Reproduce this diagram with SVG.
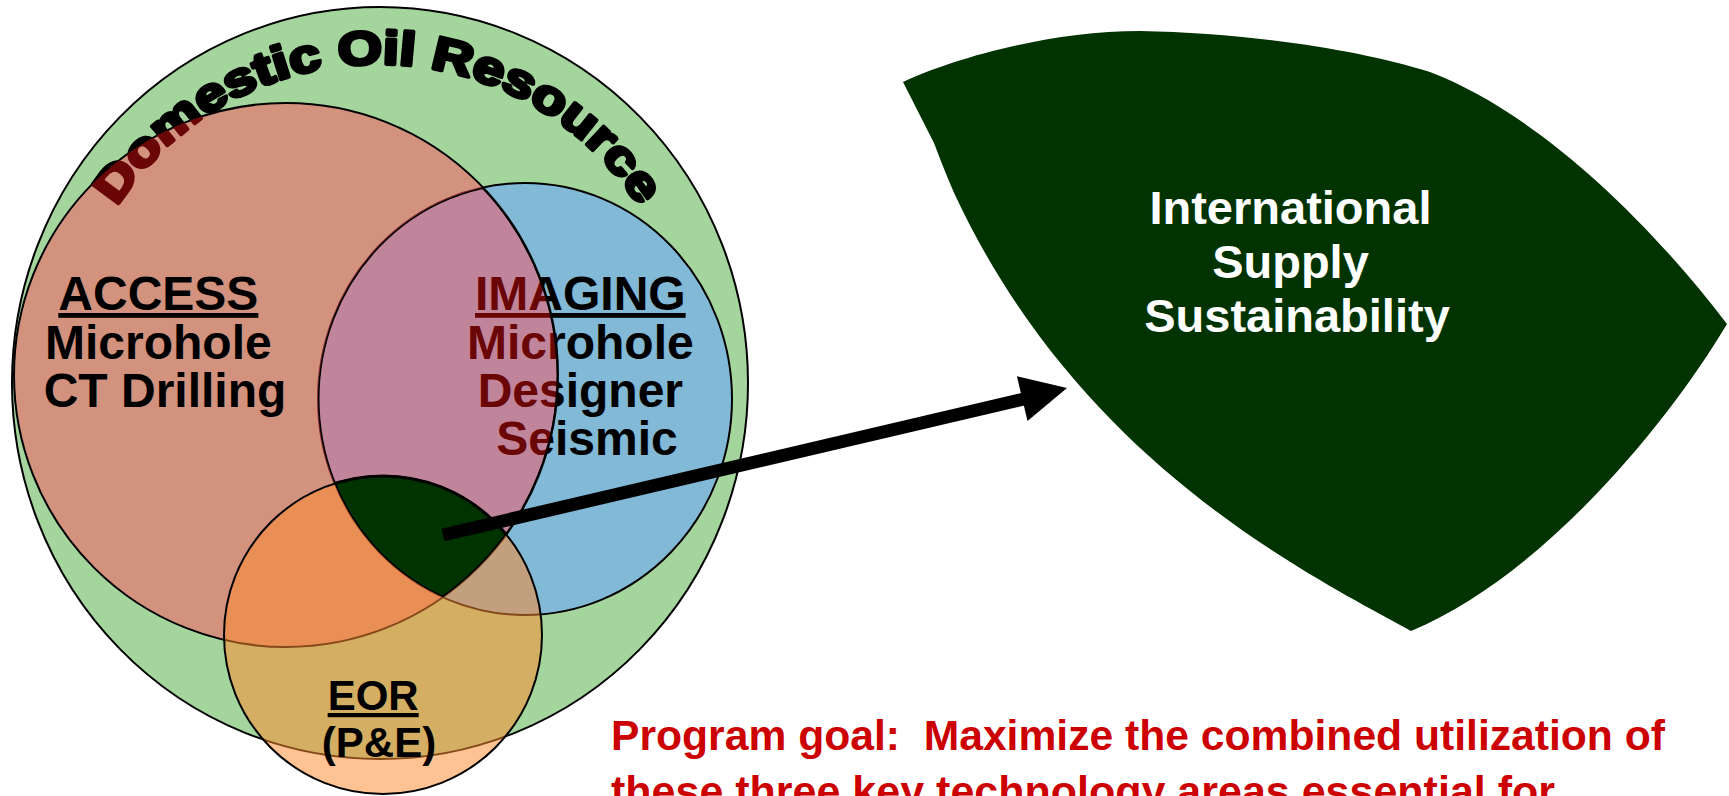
<svg xmlns="http://www.w3.org/2000/svg" width="1729" height="796" viewBox="0 0 1729 796">
<style>
  .lbl{font-family:"Liberation Sans",Arial,sans-serif;font-weight:bold;text-anchor:middle}
  .edge{stroke:#000;stroke-width:2}
  .outline{fill:none;stroke:#000;stroke-width:3}
  .goal{font-family:"Liberation Sans",Arial,sans-serif;font-weight:bold;font-size:43px;fill:#cc0000;white-space:pre}
</style>
<defs>
  <clipPath id="clipRed"><circle cx="286" cy="375" r="272"/></clipPath>
  <clipPath id="clipBlue"><ellipse cx="525" cy="399" rx="207" ry="216"/></clipPath>
  <pattern id="tint" patternUnits="userSpaceOnUse" x="0" y="0" width="1729" height="796">
    <rect width="1729" height="796" fill="#000"/>
    <circle cx="286" cy="375" r="272" fill="#6a0606"/>
  </pattern>
  <path id="arc" d="M 68 374 A 310 310 0 0 1 688 374"/>
</defs>
<rect width="1729" height="796" fill="#ffffff"/>

<g id="domestic-oil-resource">
  <ellipse cx="380" cy="383" rx="368" ry="376" fill="#a4d59c" class="edge"/>
</g>

<g id="imaging">
  <ellipse cx="525" cy="399" rx="207" ry="216" fill="#6ba6fe" fill-opacity="0.6" class="edge"/>
</g>

<g id="access">
  <circle cx="286" cy="375" r="272" fill="#ff4f60" fill-opacity="0.5" class="edge"/>
  <text class="lbl" font-size="48" fill="#000">
    <tspan x="165" y="310" text-decoration="underline">ACCESS</tspan>
    <tspan x="165" y="359">Microhole</tspan>
    <tspan x="165" y="407">CT Drilling</tspan>
  </text>
</g>

<g id="domestic-label">
  <text class="lbl" font-size="47" fill="url(#tint)" stroke="url(#tint)" stroke-width="3.6" stroke-linejoin="round"><textPath href="#arc" startOffset="50%" textLength="620" lengthAdjust="spacingAndGlyphs">Domestic Oil Resource</textPath></text>
</g>

<g id="imaging-label">
  <text class="lbl" font-size="48" fill="url(#tint)">
    <tspan x="587" y="310" text-decoration="underline">IMAGING</tspan>
    <tspan x="587" y="359">Microhole</tspan>
    <tspan x="587" y="407">Designer</tspan>
    <tspan x="587" y="455">Seismic</tspan>
  </text>
</g>

<g id="eor">
  <circle cx="383" cy="635" r="159" fill="#ff8a30" fill-opacity="0.52" class="edge"/>
  <text class="lbl" font-size="42" fill="#000">
    <tspan x="379" y="710" text-decoration="underline">EOR</tspan>
    <tspan x="379" y="757">(P&amp;E)</tspan>
  </text>
</g>

<g id="combined-core">
  <g clip-path="url(#clipRed)">
    <g clip-path="url(#clipBlue)">
      <circle cx="383" cy="635" r="159" fill="#003300"/>
      <circle cx="286" cy="375" r="272" class="outline"/>
      <ellipse cx="525" cy="399" rx="207" ry="216" class="outline"/>
      <circle cx="383" cy="635" r="159" class="outline"/>
    </g>
  </g>
</g>

<g id="international-supply">
  <path d="M 903 82 C 955 58, 1050 31, 1140 31 C 1250 33, 1360 50, 1430 72 C 1530 110, 1640 210, 1727 324 C 1670 420, 1545 575, 1411 631 C 1300 570, 1080 460, 956 197 Q 948 180, 934 143 Z" fill="#003300"/>
  <text class="lbl" font-size="47" fill="#ffffff">
    <tspan x="1297" y="224">International</tspan>
    <tspan x="1297" y="278">Supply</tspan>
    <tspan x="1297" y="332">Sustainability</tspan>
  </text>
</g>

<g id="connectors">
  <line x1="443" y1="535" x2="1024" y2="399" stroke="#000" stroke-width="13"/>
  <polygon points="1067,388 1027.5,421 1016.9,376.2" fill="#000"/>
</g>

<g id="program-goal">
  <text class="goal" x="611" y="750" textLength="1054" lengthAdjust="spacingAndGlyphs">Program goal:  Maximize the combined utilization of</text>
  <text class="goal" x="611" y="806">these three key technology areas essential for</text>
</g>
</svg>
